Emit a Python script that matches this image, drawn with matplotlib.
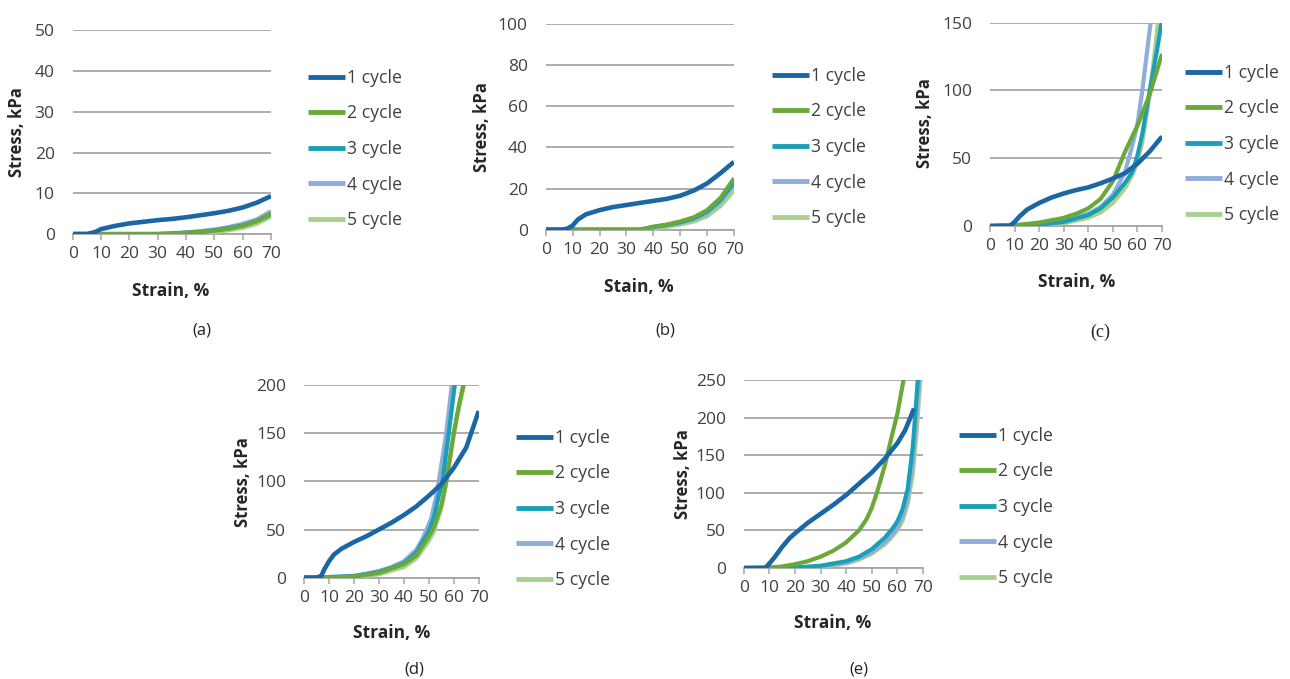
import matplotlib
matplotlib.use("Agg")
import matplotlib.pyplot as plt

plt.rcParams['font.family'] = ['Open Sans', 'DejaVu Sans']

W, H = 1290, 679

labels = ['1 cycle', '2 cycle', '3 cycle', '4 cycle', '5 cycle']
colors = ['#1b67a6', '#6aa83a', '#1a9fb8', '#8eaddb', '#a9d08c']

# ---- panel (a): stress up to 50 kPa
a_x1 = [0, 5, 8, 10, 15, 20, 25, 30, 35, 40, 45, 50, 55, 60, 65, 70]
a_y1 = [0, 0, 0.5, 1.2, 2.0, 2.6, 3.0, 3.4, 3.7, 4.1, 4.6, 5.1, 5.7, 6.5, 7.7, 9.3]
a_x2 = [0, 30, 35, 40, 45, 50, 55, 60, 65, 70]
a_y2 = [0, 0, 0.1, 0.3, 0.5, 0.8, 1.3, 2.0, 3.1, 5.0]
a_x3 = [0, 30, 35, 40, 45, 50, 55, 60, 65, 70]
a_y3 = [0, 0, 0.1, 0.3, 0.5, 0.9, 1.4, 2.1, 3.2, 4.8]
a_x4 = [0, 30, 35, 40, 45, 50, 55, 60, 65, 70]
a_y4 = [0, 0, 0.2, 0.4, 0.7, 1.1, 1.7, 2.5, 3.6, 5.6]
a_x5 = [0, 30, 35, 40, 45, 50, 55, 60, 65, 70]
a_y5 = [0, 0, 0, 0.1, 0.3, 0.5, 0.9, 1.5, 2.5, 4.3]

# ---- panel (b): stress up to 100 kPa
b_x1 = [0, 6, 8, 10, 12, 15, 20, 25, 30, 35, 40, 45, 50, 55, 60, 65, 70]
b_y1 = [0, 0, 0.5, 2, 5, 7.5, 9.5, 11, 12, 13, 14, 15, 16.5, 19, 22.5, 27.5, 33]
b_x2 = [0, 35, 40, 45, 50, 55, 60, 65, 70]
b_y2 = [0, 0, 1.5, 2.5, 4, 6, 9.5, 15.5, 25]
b_x3 = [0, 35, 40, 45, 50, 55, 60, 65, 70]
b_y3 = [0, 0, 1.3, 2.3, 3.6, 5.5, 8.8, 14.5, 23]
b_x4 = [0, 35, 40, 45, 50, 55, 60, 65, 70]
b_y4 = [0, 0, 1.2, 2.1, 3.3, 5, 8, 13.5, 22]
b_x5 = [0, 35, 40, 45, 50, 55, 60, 65, 70]
b_y5 = [0, 0, 0.6, 1.4, 2.5, 4, 6.5, 11.5, 19]

# ---- panel (c): stress up to 150 kPa
c_x1 = [0, 8, 10, 12, 15, 20, 25, 30, 35, 40, 45, 50, 55, 60, 65, 70]
c_y1 = [0, 0, 3, 7, 12, 17, 21, 24, 26.5, 28.5, 31.5, 35, 39, 46, 55, 66]
c_x2 = [0, 10, 20, 30, 35, 40, 45, 50, 55, 60, 65, 70]
c_y2 = [0, 0.5, 2.5, 6, 9, 13, 20, 33, 55, 74, 97, 127]
c_x3 = [0, 20, 30, 40, 45, 50, 55, 58, 60, 62, 65, 68, 70]
c_y3 = [0, 1, 3, 8, 13, 21, 32, 40, 52, 68, 100, 130, 152]
c_x4 = [0, 20, 30, 40, 45, 50, 55, 58, 60, 62, 64, 65.5]
c_y4 = [0, 1.5, 4, 9, 14, 23, 40, 60, 75, 100, 130, 152]
c_x5 = [0, 20, 30, 40, 45, 50, 55, 58, 60, 62, 64, 66, 68.5]
c_y5 = [0, 0.5, 2, 6, 10, 17, 28, 38, 47, 62, 85, 112, 152]

# ---- panel (d): stress up to 200 kPa
d_x1 = [0, 5, 7, 8, 10, 12, 15, 20, 25, 30, 35, 40, 45, 50, 55, 60, 65, 70]
d_y1 = [0, 0, 2, 8, 17, 24, 30, 37, 43, 50, 57, 65, 74, 85, 97, 114, 135, 173]
d_x2 = [0, 20, 30, 40, 45, 50, 52, 55, 57, 60, 62, 64]
d_y2 = [0, 1, 5, 14, 23, 43, 52, 75, 100, 150, 178, 202]
d_x3 = [0, 20, 30, 35, 40, 45, 50, 52, 54, 55.5, 58, 60.5]
d_y3 = [0, 1.5, 6, 10, 15, 26, 48, 62, 85, 100, 150, 202]
d_x4 = [0, 10, 20, 25, 30, 35, 40, 45, 47, 49, 51, 53, 54, 56, 57, 59.3]
d_y4 = [0, 0.5, 2, 4, 7, 11, 17, 29, 38, 49, 62, 85, 100, 133, 150, 202]
d_x5 = [0, 20, 30, 40, 45, 50, 52, 55, 57, 60, 62, 64.3]
d_y5 = [0, 0.5, 3.5, 11, 20, 38, 48, 72, 98, 148, 175, 202]

# ---- panel (e): stress up to 250 kPa
e_x1 = [0, 8, 9, 10, 12, 15, 18, 20, 25, 30, 35, 40, 45, 50, 55, 60, 63, 66.5]
e_y1 = [0, 0, 2, 6, 14, 28, 40, 46, 60, 72, 84, 97, 112, 127, 145, 166, 183, 212]
e_x2 = [0, 10, 15, 20, 25, 30, 35, 40, 45, 48, 50, 52, 55, 58, 60, 62.5]
e_y2 = [0, 0.5, 2, 5, 9, 15, 23, 34, 50, 65, 80, 100, 135, 178, 205, 252]
e_x3 = [0, 20, 30, 40, 45, 50, 55, 58, 60, 62, 64, 66, 67, 68]
e_y3 = [0, 0.5, 3, 9, 15, 25, 40, 52, 62, 78, 105, 160, 205, 252]
e_x4 = [0, 20, 30, 40, 45, 50, 55, 58, 60, 62, 64, 66, 67, 68.5]
e_y4 = [0, 0.4, 2, 7, 13, 21, 34, 45, 54, 68, 92, 142, 182, 252]
e_x5 = [0, 20, 30, 40, 45, 50, 55, 58, 60, 62, 64, 66, 67.5, 69]
e_y5 = [0, 0.3, 1.5, 6, 11, 19, 31, 42, 50, 63, 85, 125, 180, 252]

a_yticks = [0, 10, 20, 30, 40, 50]
b_yticks = [0, 20, 40, 60, 80, 100]
c_yticks = [0, 50, 100, 150]
d_yticks = [0, 50, 100, 150, 200]
e_yticks = [0, 50, 100, 150, 200, 250]
xticks = [0, 10, 20, 30, 40, 50, 60, 70]

panels = [
    dict(data=[(a_x1, a_y1), (a_x2, a_y2), (a_x3, a_y3), (a_x4, a_y4), (a_x5, a_y5)],
         yticks=a_yticks, box=(72.7, 271, 30.3, 234), xlabel='Strain, %',
         xl=(171, 291), yl=(17, 132), leg=(308, 149), tag='(a)', tagpos=(202, 330)),
    dict(data=[(b_x1, b_y1), (b_x2, b_y2), (b_x3, b_y3), (b_x4, b_y4), (b_x5, b_y5)],
         yticks=b_yticks, box=(545.7, 734, 24, 229.7), xlabel='Stain, %',
         xl=(639, 287), yl=(482, 127), leg=(772, 147), tag='(b)', tagpos=(665, 330)),
    dict(data=[(c_x1, c_y1), (c_x2, c_y2), (c_x3, c_y3), (c_x4, c_y4), (c_x5, c_y5)],
         yticks=c_yticks, box=(990, 1162, 22.7, 226), xlabel='Strain, %',
         xl=(1077, 282), yl=(925, 123), leg=(1185, 144), tag='(c)', tagpos=(1100, 332)),
    dict(data=[(d_x1, d_y1), (d_x2, d_y2), (d_x3, d_y3), (d_x4, d_y4), (d_x5, d_y5)],
         yticks=d_yticks, box=(304, 478.7, 385, 577.7), xlabel='Strain, %',
         xl=(392, 633), yl=(243, 482), leg=(516, 509), tag='(d)', tagpos=(414, 670)),
    dict(data=[(e_x1, e_y1), (e_x2, e_y2), (e_x3, e_y3), (e_x4, e_y4), (e_x5, e_y5)],
         yticks=e_yticks, box=(743.7, 923, 380, 568), xlabel='Strain, %',
         xl=(833, 623), yl=(683, 474), leg=(959, 507), tag='(e)', tagpos=(859, 670)),
]

fig = plt.figure(figsize=(W / 100, H / 100), dpi=100)
txt = '#404040'
grid = '#a6a6a6'

for p in panels:
    l, r, t, b = p['box']
    ax = fig.add_axes([l / W, 1 - b / H, (r - l) / W, (b - t) / H])
    for i, (xs, ys) in enumerate(p['data']):
        ax.plot(xs, ys, color=colors[i], lw=3.3 if i == 0 else 3.0,
                solid_capstyle='butt', label=labels[i], zorder=10 - i if i else 11)
    ax.set_xlim(0, 70)
    ax.set_ylim(0, p['yticks'][-1])
    ax.set_xticks(xticks)
    ax.set_yticks(p['yticks'])
    ax.yaxis.grid(True, color=grid, lw=1.3)
    ax.set_axisbelow(True)
    for s in ['top', 'right', 'left']:
        ax.spines[s].set_visible(False)
    ax.spines['bottom'].set_color(grid)
    ax.spines['bottom'].set_linewidth(1.3)
    ax.tick_params(axis='x', length=4, width=1.1, color=grid, pad=5,
                   labelsize=12.5, labelcolor=txt)
    ax.tick_params(axis='y', length=0, pad=13, labelsize=12.5, labelcolor=txt)
    ax.set_xlabel(p['xlabel'], fontsize=12.5, fontweight='bold', color='#262626')
    ax.set_ylabel('Stress, kPa', fontsize=12, fontweight='bold', color='#262626')
    ax.xaxis.set_label_coords(p['xl'][0] / W, 1 - p['xl'][1] / H, transform=fig.transFigure)
    ax.yaxis.set_label_coords(p['yl'][0] / W, 1 - p['yl'][1] / H, transform=fig.transFigure)
    ax.xaxis.label.set_va('center')
    ax.yaxis.label.set_va('center')
    leg = ax.legend(loc='center left', bbox_to_anchor=(p['leg'][0] / W, 1 - p['leg'][1] / H),
                    bbox_transform=fig.transFigure, frameon=False, fontsize=12.7,
                    borderpad=0, borderaxespad=0, handlelength=2.1, handletextpad=0.12,
                    labelspacing=1.0)
    for tx in leg.get_texts():
        tx.set_color(txt)
    for ln in leg.get_lines():
        ln.set_linewidth(3.5)
    fam = ['Liberation Serif'] if p['tag'] == '(c)' else ['Open Sans']
    fig.text(p['tagpos'][0] / W, 1 - p['tagpos'][1] / H, p['tag'], ha='center', va='center',
             fontsize=13 if p['tag'] == '(c)' else 12, color='#222222', family=fam)

fig.savefig('out.png', dpi=100)
